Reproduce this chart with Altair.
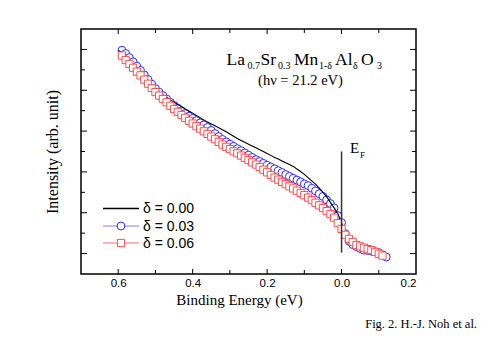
import altair as alt
import pandas as pd

# ---- data (binding energy in eV, intensity in arb. units) ----
energy_circ = [0.59, 0.58, 0.57, 0.56, 0.55, 0.54, 0.53, 0.52, 0.51, 0.50,
               0.49, 0.48, 0.47, 0.46, 0.45, 0.44, 0.43, 0.42, 0.41, 0.40,
               0.39, 0.38, 0.37, 0.36, 0.35, 0.34, 0.33, 0.32, 0.31, 0.30,
               0.29, 0.28, 0.27, 0.26, 0.25, 0.24, 0.23, 0.22, 0.21, 0.20,
               0.19, 0.18, 0.17, 0.16, 0.15, 0.14, 0.13, 0.12, 0.11, 0.10,
               0.09, 0.08, 0.07, 0.06, 0.05, 0.04, 0.03, 0.02, 0.01, 0.00,
               -0.01, -0.02, -0.03, -0.04, -0.05, -0.06, -0.07, -0.08, -0.09, -0.10,
               -0.11, -0.12]
int_003 = [10.96, 10.80, 10.60, 10.39, 10.18, 9.97, 9.75, 9.53, 9.30, 9.08,
           8.90, 8.74, 8.57, 8.41, 8.25, 8.12, 7.99, 7.86, 7.73, 7.62,
           7.51, 7.40, 7.30, 7.18, 7.03, 6.88, 6.73, 6.59, 6.47, 6.36,
           6.25, 6.14, 6.04, 5.93, 5.82, 5.71, 5.60, 5.51, 5.42, 5.33,
           5.24, 5.15, 5.06, 4.97, 4.87, 4.78, 4.69, 4.60, 4.51, 4.41,
           4.33, 4.20, 4.07, 3.93, 3.80, 3.63, 3.45, 3.24, 2.86, 2.52,
           1.98, 1.61, 1.44, 1.34, 1.25, 1.17, 1.15, 1.12, 1.10, 1.05,
           0.94, 0.83]

energy_sq = [0.59, 0.58, 0.57, 0.56, 0.55, 0.54, 0.53, 0.52, 0.51, 0.50,
             0.49, 0.48, 0.47, 0.46, 0.45, 0.44, 0.43, 0.42, 0.41, 0.40,
             0.39, 0.38, 0.37, 0.36, 0.35, 0.34, 0.33, 0.32, 0.31, 0.30,
             0.29, 0.28, 0.27, 0.26, 0.25, 0.24, 0.23, 0.22, 0.21, 0.20,
             0.19, 0.18, 0.17, 0.16, 0.15, 0.14, 0.13, 0.12, 0.11, 0.10,
             0.09, 0.08, 0.07, 0.06, 0.05, 0.04, 0.03, 0.02, 0.01, 0.00,
             -0.01, -0.02, -0.03, -0.04, -0.05, -0.06, -0.07, -0.08, -0.09, -0.10,
             -0.11]
int_006 = [10.70, 10.48, 10.29, 10.10, 9.91, 9.73, 9.52, 9.32, 9.11, 8.91,
           8.74, 8.57, 8.41, 8.24, 8.08, 7.94, 7.79, 7.65, 7.50, 7.37,
           7.24, 7.12, 6.99, 6.86, 6.73, 6.60, 6.47, 6.34, 6.23, 6.12,
           6.01, 5.91, 5.80, 5.69, 5.58, 5.47, 5.36, 5.24, 5.11, 4.98,
           4.85, 4.72, 4.62, 4.51, 4.40, 4.30, 4.19, 4.08, 3.97, 3.86,
           3.74, 3.62, 3.49, 3.36, 3.23, 3.08, 2.93, 2.76, 2.49, 2.21,
           1.92, 1.72, 1.57, 1.42, 1.35, 1.29, 1.22, 1.17, 1.08, 0.99,
           0.90]

energy_line = [0.60, 0.59, 0.58, 0.57, 0.56, 0.55, 0.54, 0.53, 0.52, 0.51,
               0.50, 0.49, 0.48, 0.47, 0.46, 0.45, 0.44, 0.43, 0.42, 0.41,
               0.40, 0.39, 0.38, 0.37, 0.36, 0.35, 0.34, 0.33, 0.32, 0.31,
               0.30, 0.29, 0.28, 0.27, 0.26, 0.25, 0.24, 0.23, 0.22, 0.21,
               0.20, 0.19, 0.18, 0.17, 0.16, 0.15, 0.14, 0.13, 0.12, 0.11,
               0.10, 0.09, 0.08, 0.07, 0.06, 0.05, 0.04, 0.03, 0.02, 0.01,
               0.00, -0.01, -0.02, -0.03, -0.04, -0.05, -0.06, -0.07, -0.08, -0.09,
               -0.10, -0.11]
int_000 = [10.95, 10.85, 10.62, 10.41, 10.20, 9.98, 9.76, 9.55, 9.34, 9.17,
           9.04, 8.92, 8.78, 8.66, 8.53, 8.42, 8.30, 8.20, 8.08, 7.98,
           7.88, 7.77, 7.66, 7.55, 7.44, 7.35, 7.26, 7.16, 7.07, 6.97,
           6.86, 6.75, 6.64, 6.54, 6.45, 6.36, 6.27, 6.18, 6.09, 6.00,
           5.90, 5.81, 5.71, 5.63, 5.54, 5.45, 5.36, 5.27, 5.14, 5.02,
           4.88, 4.72, 4.56, 4.40, 4.21, 4.00, 3.79, 3.51, 3.24, 2.95,
           2.50, 2.05, 1.72, 1.55, 1.34, 1.28, 1.23, 1.17, 1.11, 1.04,
           0.95, 0.86]

legend_labels = ["δ = 0.00", "δ = 0.03", "δ = 0.06"]
x_label_values = [0.6, 0.4, 0.2, 0.0, -0.2]
x_major_ticks = [0.6, 0.4, 0.2, 0.0]
x_minor_ticks = [0.5, 0.3, 0.1, -0.1]
y_major_ticks = [1, 3, 5, 7, 9, 11]
y_minor_ticks = [2, 4, 6, 8, 10]
ef_energy = [0.0]
ef_top = [6.0]
ef_bottom = [1.05]

W, H = 335, 245
SERIF = "Liberation Serif"
SANS = "Liberation Sans"
BLUE = "#2b2bff"
BLUE_LIGHT = "#a8a8ff"
RED = "#ff4d4d"
RED_LIGHT = "#ff6a6a"

xs = alt.Scale(domain=[-0.2, 0.7], reverse=True, nice=False, zero=False)
ys = alt.Scale(domain=[0, 12], nice=False, zero=False)

x_axis = alt.Axis(values=x_label_values,
                  labelExpr="format(abs(datum.value), '.1f')",
                  ticks=False, domain=False, grid=False,
                  labelFont=SANS, labelFontSize=11.5, labelColor="black",
                  labelPadding=3,
                  title="Binding Energy (eV)", titleFont=SERIF, titleFontSize=15,
                  titleFontWeight="normal", titleColor="black",
                  titleX=158, titleY=18)
y_axis = alt.Axis(labels=False, ticks=False, domain=False, grid=False,
                  title="Intensity (arb. unit)", titleFont=SERIF, titleFontSize=16,
                  titleFontWeight="normal", titleColor="black",
                  titleX=-21, titleY=H / 2)

X = lambda f: alt.X(f, type="quantitative", scale=xs, axis=x_axis)
Y = lambda f: alt.Y(f, type="quantitative", scale=ys, axis=y_axis)

df_b = pd.DataFrame({"e": energy_circ, "i": int_003})
df_r = pd.DataFrame({"e": energy_sq, "i": int_006})
df_k = pd.DataFrame({"e": energy_line, "i": int_000})

blue = alt.Chart(df_b).mark_point(shape="circle", size=62, filled=False,
                                  fill="white", fillOpacity=1, color=BLUE,
                                  strokeWidth=1, opacity=1).encode(x=X("e"), y=Y("i"))

black = alt.Chart(df_k).mark_line(color="black", strokeWidth=1.1).encode(x=X("e"), y=Y("i"))

red = alt.Chart(df_r).mark_point(shape="square", size=52, filled=False,
                                 fill="white", fillOpacity=1, color=RED,
                                 strokeWidth=1, opacity=1).encode(x=X("e"), y=Y("i"))

# E_F marker line
df_ef = pd.DataFrame({"e": ef_energy, "y1": ef_top, "y2": ef_bottom})
ef_line = alt.Chart(df_ef).mark_rule(color="#333333", strokeWidth=1.5).encode(
    x=X("e"), y=Y("y1"), y2="y2:Q")

# inward ticks on all four sides
def xticks(vals, length):
    d = pd.DataFrame({"e": vals})
    bot = alt.Chart(d).mark_rule(color="black", strokeWidth=1).encode(
        x=X("e"), y=alt.value(H), y2=alt.value(H - length))
    top = alt.Chart(d).mark_rule(color="black", strokeWidth=1).encode(
        x=X("e"), y=alt.value(0), y2=alt.value(length))
    return [bot, top]

def yticks(vals, length):
    d = pd.DataFrame({"i": vals})
    left = alt.Chart(d).mark_rule(color="black", strokeWidth=1).encode(
        y=Y("i"), x=alt.value(0), x2=alt.value(length))
    right = alt.Chart(d).mark_rule(color="black", strokeWidth=1).encode(
        y=Y("i"), x=alt.value(W), x2=alt.value(W - length))
    return [left, right]

ticks = xticks(x_major_ticks, 5) + xticks(x_minor_ticks, 4) + \
    yticks(y_major_ticks, 6) + yticks(y_minor_ticks, 4)

# text annotations
def txt(s, x, y, size, font=SERIF, align="left", baseline="alphabetic"):
    return alt.Chart(pd.DataFrame({"t": [s]})).mark_text(
        text=s, font=font, fontSize=size, align=align, baseline=baseline,
        color="black").encode(x=alt.value(x), y=alt.value(y))

formula = [
    txt("La", 145.5, 36, 17.5), txt("0.7", 166.5, 40, 10),
    txt("Sr", 179.5, 36, 17.5), txt("0.3", 197, 40, 10),
    txt("Mn", 213, 36, 17.5), txt("1-δ", 238, 40, 10),
    txt("Al", 254, 36, 17.5), txt("δ", 272, 40, 10),
    txt("O", 280, 36, 17.5), txt("3", 296, 40, 10),
    txt("(hν = 21.2 eV)", 219.5, 56, 14.5, align="center"),
    txt("E", 269, 124, 15), txt("F", 279, 129, 9),
    txt("Fig. 2. H.-J. Noh et al.", 396, 299, 12.5, align="right"),
]

# manual legend
leg_y = [179.5, 197, 214]
one = pd.DataFrame({"t": [0]})
legend = [
    alt.Chart(one).mark_rule(color="black", strokeWidth=1.3).encode(
        x=alt.value(22), x2=alt.value(58), y=alt.value(leg_y[0])),
    alt.Chart(one).mark_rule(color=BLUE_LIGHT, strokeWidth=1.3).encode(
        x=alt.value(22), x2=alt.value(58), y=alt.value(leg_y[1])),
    alt.Chart(one).mark_point(shape="circle", size=62, filled=False,
        fill="white", fillOpacity=1, color=BLUE, strokeWidth=1, opacity=1).encode(
        x=alt.value(40), y=alt.value(leg_y[1])),
    alt.Chart(one).mark_rule(color=RED_LIGHT, strokeWidth=1).encode(
        x=alt.value(22), x2=alt.value(58), y=alt.value(leg_y[2])),
    alt.Chart(one).mark_point(shape="square", size=52, filled=False,
        fill="white", fillOpacity=1, color=RED, strokeWidth=1, opacity=1).encode(
        x=alt.value(40), y=alt.value(leg_y[2])),
]
for k, lab in enumerate(legend_labels):
    legend.append(txt(lab, 62, leg_y[k] + 0.5, 14, font=SANS, baseline="middle"))

chart = alt.layer(blue, black, red, ef_line, *ticks, *formula, *legend).properties(
    width=W, height=H,
    autosize=alt.AutoSizeParams(type="none"),
    padding={"left": 73, "top": 21, "right": 67, "bottom": 60},
    background="white",
).configure_view(stroke="black", strokeWidth=1.5)

chart.save("out.html", embed_options={"renderer": "svg", "actions": False})
